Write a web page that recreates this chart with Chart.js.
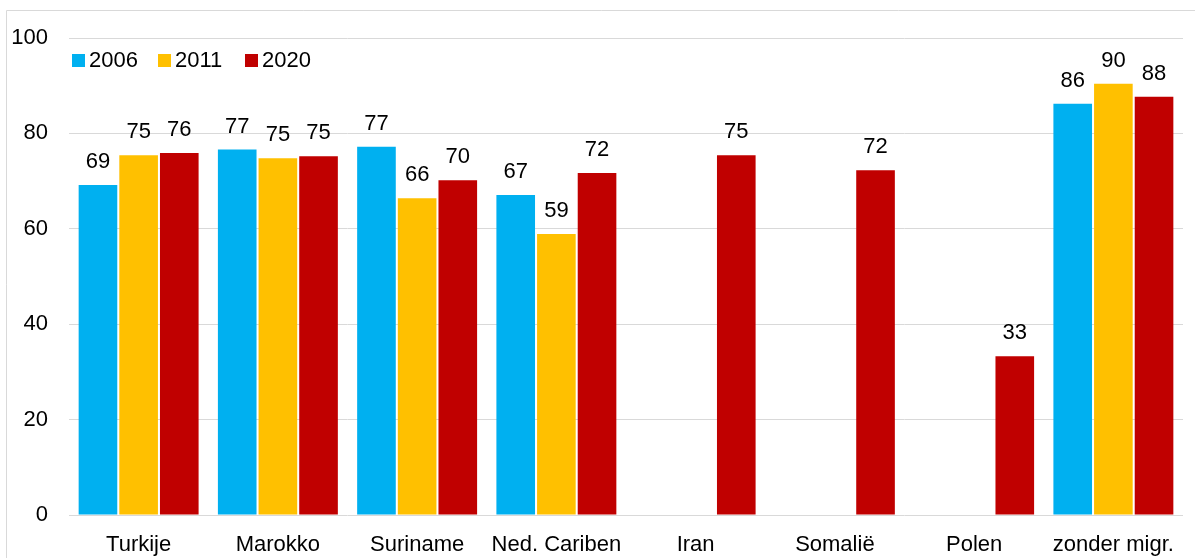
<!DOCTYPE html>
<html>
<head>
<meta charset="utf-8">
<script src="https://cdn.jsdelivr.net/npm/chart.js@4.4.1/dist/chart.umd.min.js"></script>
<style>
  html, body { margin: 0; padding: 0; background: #fff; overflow: hidden; }
  #grafico { display: block; }
</style>
</head>
<body>
<canvas id="grafico" width="1195" height="558"></canvas>
<script>
const categorieen = ['Turkije', 'Marokko', 'Suriname', 'Ned. Cariben', 'Iran', 'Somalië', 'Polen', 'zonder migr.'];
const jaren = ['2006', '2011', '2020'];
const waarden2006 = [69.2, 76.6, 77.2, 67.1, null, null, null, 86.2];
const waarden2011 = [75.4, 74.8, 66.4, 58.9, null, null, null, 90.4];
const waarden2020 = [75.9, 75.2, 70.2, 71.7, 75.4, 72.3, 33.3, 87.7];
const kleuren = ['#00B0F0', '#FFC000', '#C00000'];
const yTicks = [0, 20, 40, 60, 80, 100];

const lettertype = '"Liberation Sans", Arial, sans-serif';

// kader rond de grafiek + legenda + labels boven de staven
const extraTekening = {
    id: 'extraTekening',
    beforeDraw(chart) {
        const ctx = chart.ctx;
        ctx.save();
        ctx.strokeStyle = '#d9d9d9';
        ctx.lineWidth = 1;
        ctx.beginPath();
        ctx.moveTo(6.5, 600);
        ctx.lineTo(6.5, 10.5);
        ctx.lineTo(1200, 10.5);
        ctx.stroke();
        ctx.restore();
    },
    afterDatasetsDraw(chart) {
        const ctx = chart.ctx;
        ctx.save();
        ctx.font = '22px ' + lettertype;
        ctx.fillStyle = '#000';
        ctx.textAlign = 'center';
        ctx.textBaseline = 'alphabetic';
        chart.data.datasets.forEach((ds, i) => {
            const meta = chart.getDatasetMeta(i);
            meta.data.forEach((bar, j) => {
                const v = ds.data[j];
                if (v === null) return;
                ctx.fillText(String(Math.round(v)), bar.x, bar.y - 17);
            });
        });

        // legenda linksboven
        const legX = [72, 158, 245];
        ctx.textAlign = 'left';
        ctx.textBaseline = 'middle';
        jaren.forEach((jaar, i) => {
            ctx.fillStyle = kleuren[i];
            ctx.fillRect(legX[i], 54, 13, 13);
            ctx.fillStyle = '#000';
            ctx.fillText(jaar, legX[i] + 17, 61);
        });
        ctx.restore();
    }
};

const ctx = document.getElementById('grafico').getContext('2d');

const grafiek = new Chart(ctx, {
    type: 'bar',
    data: {
        labels: categorieen,
        datasets: [
            { label: jaren[0], data: waarden2006, backgroundColor: kleuren[0] },
            { label: jaren[1], data: waarden2011, backgroundColor: kleuren[1] },
            { label: jaren[2], data: waarden2020, backgroundColor: kleuren[2] }
        ]
    },
    options: {
        responsive: false,
        animation: false,
        devicePixelRatio: 1,
        categoryPercentage: 0.876,
        barPercentage: 0.95,
        layout: {
            padding: { top: 38, right: 12, left: 0, bottom: 0 }
        },
        plugins: {
            legend: { display: false },
            tooltip: { enabled: false }
        },
        scales: {
            x: {
                grid: { display: false, drawTicks: false },
                border: { display: false },
                ticks: {
                    color: '#000',
                    font: { family: lettertype, size: 22 },
                    padding: 17,
                    maxRotation: 0,
                    autoSkip: false
                },
                afterFit: s => { s.height = 43; }
            },
            y: {
                min: 0,
                max: 100,
                afterBuildTicks: s => { s.ticks = yTicks.map(v => ({ value: v })); },
                grid: { color: '#d9d9d9', lineWidth: 1, drawTicks: false },
                border: { display: false },
                ticks: {
                    color: '#000',
                    font: { family: lettertype, size: 22 },
                    padding: 21
                },
                afterFit: s => { s.width = 69; }
            }
        }
    },
    plugins: [extraTekening]
});
</script>
</body>
</html>
